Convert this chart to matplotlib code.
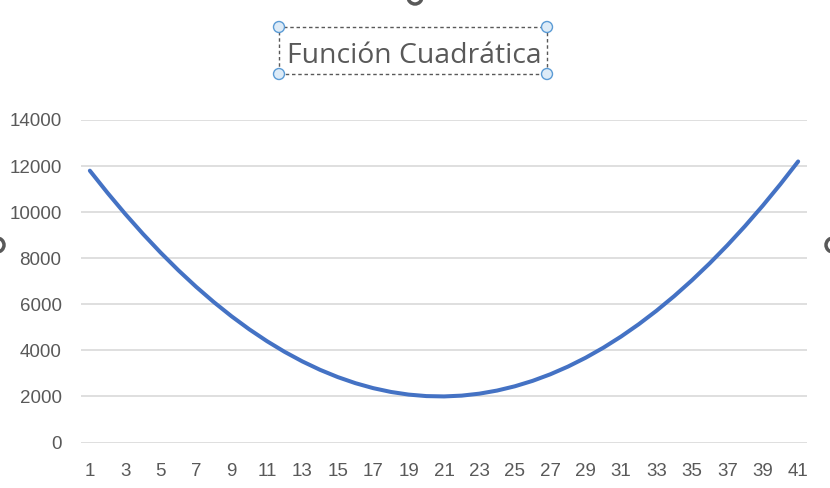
import matplotlib
matplotlib.use("Agg")
import matplotlib.pyplot as plt
from matplotlib.patches import Rectangle, Circle

categories = list(range(1, 42))
values = [11800, 10835, 9920, 9055, 8240, 7475, 6760, 6095, 5480, 4915,
          4400, 3935, 3520, 3155, 2840, 2575, 2360, 2195, 2080, 2015,
          2000, 2035, 2120, 2255, 2440, 2675, 2960, 3295, 3680, 4115,
          4600, 5135, 5720, 6355, 7040, 7775, 8560, 9395, 10280, 11215,
          12200]
y_ticks = [0, 2000, 4000, 6000, 8000, 10000, 12000, 14000]
title = "Función Cuadrática"

plt.rcParams['font.family'] = ['Liberation Sans', 'DejaVu Sans']
W, H = 830, 488
fig = plt.figure(figsize=(W / 100, H / 100), dpi=100)
fig.patch.set_facecolor('white')

ax = fig.add_axes([81 / W, 1 - 442.5 / H, (807 - 81) / W, (442.5 - 120) / H])
ax.plot(categories, values, color='#4472C4', lw=2.9, solid_capstyle='round')
ax.set_xlim(0.5, 41.5)
ax.set_ylim(0, 14000)
ax.set_yticks(y_ticks)
ax.set_xticks(categories[::2])
ax.yaxis.grid(True, color='#D9D9D9', lw=1.2)
ax.set_axisbelow(True)
for s in ax.spines.values():
    s.set_visible(False)
ax.tick_params(length=0, labelsize=13.5, labelcolor='#595959')
ax.tick_params(axis='y', pad=14)
ax.tick_params(axis='x', pad=15)

# title with dashed selection box
fig.text(414 / W, 1 - 63 / H, title, ha='center', va='baseline',
         fontsize=20.4, color='#595959', family=['Open Sans', 'DejaVu Sans'])
x0, x1, y0, y1 = 279, 547, 27, 74
fig.patches.append(Rectangle((x0 / W, 1 - y1 / H), (x1 - x0) / W, (y1 - y0) / H,
                             transform=fig.transFigure, fill=False,
                             ec='#595959', lw=1, ls=(0, (2.5, 2.0))))
for (cx, cy) in [(x0, y0), (x1, y0), (x0, y1), (x1, y1)]:
    fig.patches.append(Circle((cx, H - cy), 5.5, transform=None,
                              fc='#DDEBF7', ec='#5B9BD5', lw=1, zorder=5))
# chart-area handles (partially off-canvas)
for (cx, cy) in [(415, -3), (-3, 245), (833, 245)]:
    fig.patches.append(Circle((cx, H - cy), 7, transform=None,
                              fc='white', ec='#595959', lw=2.5, zorder=5))

fig.savefig('out.png', dpi=100)
